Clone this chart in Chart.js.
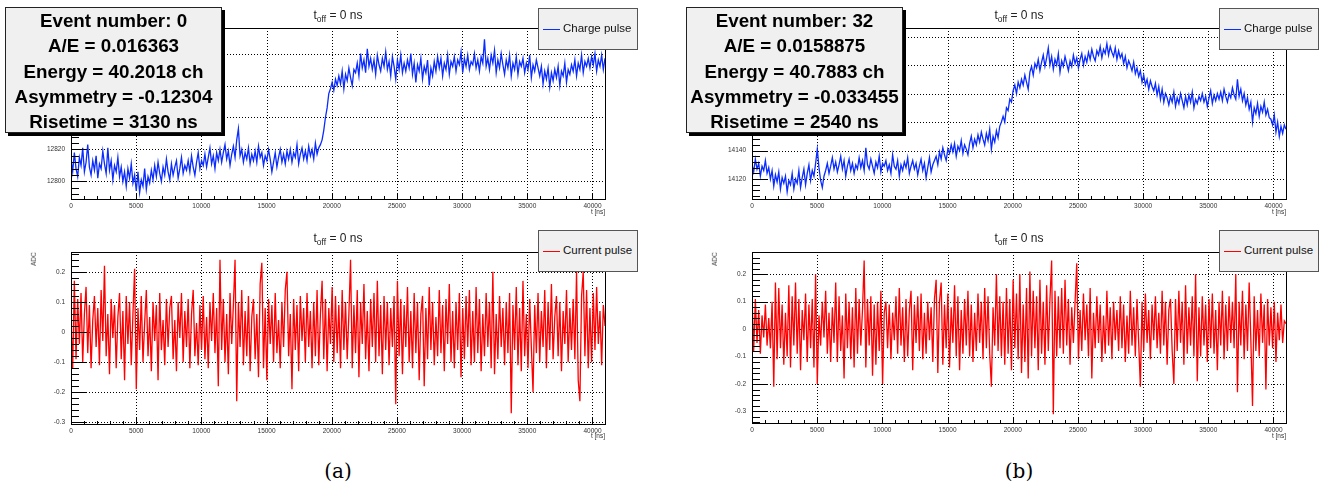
<!DOCTYPE html>
<html>
<head>
<meta charset="utf-8">
<script src="https://cdn.jsdelivr.net/npm/chart.js@4.4.1/dist/chart.umd.min.js"></script>
<style>
  html, body { margin: 0; padding: 0; background: #fff; }
  body { width: 1320px; height: 488px; position: relative; overflow: hidden;
         font-family: "Liberation Sans", Arial, Helvetica, sans-serif; }
  canvas { position: absolute; }
  .stats { position: absolute; width: 217px; height: 126px; box-sizing: border-box;
           background: #f0f0f0; border: 1px solid #222; box-shadow: 3px 3px 0 #000;
           font-weight: bold; font-size: 18.8px; line-height: 25.3px; text-align: center; color: #000; }
  .legend { position: absolute; width: 100px; height: 42px; box-sizing: border-box;
            background: #f0f0f0; border: 1px solid #555; }
  .legend .sw { position: absolute; left: 4px; top: 20px; width: 17px; height: 1px; }
  .legend .lb { position: absolute; left: 24px; top: 13px; font-size: 11.5px; line-height: 13px; color: #111; white-space: nowrap; }
  .ttl { position: absolute; font-size: 12px; line-height: 14px; color: #222; white-space: nowrap; transform: translateX(-50%); }
  .ttl sub { font-size: 8.5px; line-height: 0; vertical-align: -3px; }
  .axt { position: absolute; font-size: 6.5px; line-height: 8px; color: #333; white-space: nowrap; }
  .cap { position: absolute; font-family: "DejaVu Serif", serif; font-size: 20px; line-height: 22px; color: #000; transform: translateX(-50%); }
</style>
</head>
<body>
<script>
// waveforms thinned from 4096 samples x 10 ns
const X_MAX = 40960;

const xTicks = [0, 5000, 10000, 15000, 20000, 25000, 30000, 35000, 40000];
const yTicksChargeA = [12800, 12820, 12840, 12860, 12880];
const yTicksChargeB = [14120, 14140, 14160, 14180, 14200, 14220];
const yTicksCurrent = [-0.3, -0.2, -0.1, 0, 0.1, 0.2];

// (a) event 0 - charge pulse [ADC]
const chargeA = [
  12814, 12806, 12818, 12808, 12803, 12815, 12810, 12821, 12806, 12812,
  12823, 12809, 12804, 12813, 12807, 12816, 12802, 12811, 12808, 12819,
  12811, 12805, 12821, 12807, 12813, 12801, 12810, 12806, 12815, 12803,
  12809, 12800, 12806, 12797, 12808, 12802, 12811, 12799, 12804, 12794,
  12806, 12793, 12801, 12797, 12808, 12795, 12803, 12799, 12807, 12801,
  12810, 12803, 12812, 12805, 12800, 12809, 12804, 12814, 12806, 12801,
  12811, 12804, 12809, 12813, 12802, 12808, 12815, 12805, 12810, 12807,
  12813, 12806, 12816, 12809, 12804, 12812, 12818, 12808, 12813, 12810,
  12817, 12809, 12815, 12821, 12811, 12816, 12808, 12818, 12813, 12820,
  12812, 12818, 12823, 12814, 12819, 12810, 12817, 12822, 12815, 12826,
  12833, 12816, 12820, 12812, 12818, 12814, 12821, 12811, 12817, 12813,
  12819, 12812, 12822, 12815, 12818, 12810, 12816, 12813, 12820, 12814,
  12806, 12812, 12818, 12809, 12815, 12820, 12812, 12817, 12811, 12819,
  12814, 12820, 12812, 12818, 12815, 12823, 12811, 12817, 12821, 12814,
  12819, 12813, 12822, 12816, 12820, 12814, 12824, 12817, 12821, 12823,
  12826, 12832, 12840, 12846, 12855, 12858, 12862, 12857, 12864, 12860,
  12866, 12861, 12869, 12858, 12867, 12863, 12871, 12865, 12860, 12870,
  12868, 12874, 12866, 12880, 12871, 12876, 12868, 12883, 12872, 12877,
  12870, 12876, 12867, 12879, 12873, 12869, 12877, 12872, 12881, 12870,
  12875, 12866, 12878, 12872, 12864, 12876, 12870, 12879, 12868, 12874,
  12869, 12876, 12871, 12880, 12867, 12874, 12862, 12873, 12869, 12877,
  12864, 12872, 12868, 12876, 12860, 12871, 12866, 12875, 12869, 12878,
  12871, 12877, 12866, 12874, 12870, 12879, 12867, 12875, 12872, 12878,
  12869, 12876, 12873, 12881, 12868, 12877, 12872, 12879, 12870, 12875,
  12873, 12880, 12871, 12876, 12869, 12878, 12874, 12889, 12872, 12877,
  12870, 12879, 12874, 12882, 12868, 12876, 12871, 12880, 12873, 12867,
  12876, 12871, 12879, 12866, 12874, 12870, 12878, 12867, 12875, 12872,
  12877, 12868, 12874, 12870, 12879, 12865, 12873, 12869, 12876, 12871,
  12866, 12872, 12861, 12869, 12864, 12871, 12859, 12868, 12863, 12870,
  12865, 12872, 12860, 12869, 12866, 12874, 12862, 12870, 12867, 12873,
  12869, 12876, 12866, 12874, 12870, 12879, 12868, 12875, 12872, 12877,
  12871, 12878, 12873, 12880, 12869, 12876, 12872, 12879, 12870, 12877
];

// (a) event 0 - current pulse [ADC]
const currentA = [
  0.04, -0.12, 0.17, -0.09, 0.11, -0.04, 0.13, -0.10, 0.06, 0.15,
  -0.07, 0.09, -0.12, 0.04, 0.12, -0.05, 0.08, -0.11, 0.14, -0.03,
  0.22, -0.08, 0.06, -0.14, 0.11, -0.02, 0.09, -0.12, 0.05, 0.13,
  -0.09, 0.07, -0.16, 0.12, -0.04, 0.10, -0.11, 0.06, 0.21, -0.19,
  0.08, -0.06, 0.12, -0.10, 0.03, 0.14, -0.08, 0.05, -0.13, 0.10,
  -0.03, 0.09, -0.16, 0.13, -0.06, 0.04, -0.11, 0.11, -0.05, 0.08,
  0.12, -0.09, 0.04, -0.13, 0.10, -0.02, 0.13, -0.10, 0.07, -0.05,
  0.11, -0.12, 0.06, 0.14, -0.08, 0.03, -0.11, 0.09, -0.06, 0.12,
  -0.09, 0.05, -0.12, 0.10, -0.03, 0.13, -0.07, 0.08, -0.18, 0.24,
  -0.06, 0.11, -0.10, 0.06, -0.14, 0.13, -0.04, 0.09, 0.24, -0.23,
  0.10, -0.05, 0.14, -0.11, 0.07, -0.08, 0.12, -0.13, 0.05, 0.11,
  -0.09, 0.06, -0.15, 0.16, 0.23, -0.12, 0.08, -0.16, 0.11, -0.04,
  0.09, -0.10, 0.13, -0.07, 0.04, -0.12, 0.10, -0.05, 0.14, 0.20,
  -0.08, 0.06, -0.19, 0.11, -0.06, 0.09, -0.13, 0.12, -0.03, 0.08,
  -0.10, 0.13, -0.05, 0.07, -0.12, 0.10, -0.08, 0.14, -0.11, 0.06,
  0.17, -0.09, 0.11, -0.13, 0.08, -0.04, 0.15, -0.10, 0.12, -0.07,
  0.09, -0.12, 0.14, -0.06, 0.10, -0.09, 0.06, 0.24, -0.12, 0.09,
  -0.07, 0.14, -0.15, 0.10, -0.04, 0.16, -0.09, 0.07, -0.13, 0.11,
  -0.05, 0.13, -0.10, 0.17, -0.08, 0.09, -0.14, 0.12, -0.06, 0.10,
  -0.11, 0.08, -0.05, 0.12, -0.24, 0.17, -0.08, 0.11, -0.14, 0.09,
  -0.05, 0.15, -0.10, 0.07, -0.12, 0.13, -0.07, 0.10, -0.16, 0.06,
  0.12, -0.18, 0.08, -0.09, 0.15, -0.06, 0.10, -0.11, 0.05, -0.08,
  0.14, -0.07, 0.09, -0.13, 0.11, -0.04, 0.16, -0.10, 0.07, -0.12,
  0.10, -0.06, 0.13, -0.15, 0.08, -0.09, 0.12, -0.05, 0.14, -0.11,
  0.07, -0.10, 0.15, -0.07, 0.11, -0.13, 0.06, -0.08, 0.13, -0.05,
  0.10, -0.12, 0.20, -0.14, 0.06, -0.09, 0.12, -0.05, 0.08, -0.11,
  0.10, -0.07, 0.13, -0.27, 0.09, -0.06, 0.15, -0.11, 0.08, -0.13,
  0.17, -0.08, 0.06, -0.12, 0.11, -0.05, -0.20, 0.09, -0.07, 0.13,
  -0.10, 0.07, -0.05, 0.14, -0.12, 0.10, -0.06, 0.16, -0.09, 0.05,
  0.12, -0.08, 0.10, -0.13, 0.07, -0.04, 0.14, -0.10, 0.08, -0.06,
  0.11, -0.09, 0.20, -0.16, -0.23, 0.12, 0.20, -0.08, 0.14, -0.12,
  0.08, -0.10, 0.13, -0.06, 0.15, -0.04, 0.07, -0.11, 0.09, 0.02
];

// (b) event 32 - charge pulse [ADC]
const chargeB = [
  14130, 14125, 14134, 14127, 14131, 14122, 14129, 14126, 14133, 14124,
  14128, 14120, 14126, 14115, 14123, 14118, 14125, 14113, 14121, 14117,
  14122, 14111, 14119, 14116, 14124, 14113, 14120, 14117, 14126, 14114,
  14121, 14127, 14116, 14124, 14130, 14119, 14126, 14122, 14131, 14141,
  14128, 14119, 14114, 14122, 14126, 14131, 14124, 14129, 14135, 14127,
  14132, 14125, 14130, 14136, 14127, 14133, 14122, 14129, 14134, 14126,
  14131, 14124, 14130, 14127, 14135, 14128, 14133, 14126, 14142, 14130,
  14127, 14134, 14129, 14124, 14132, 14128, 14136, 14125, 14131, 14129,
  14133, 14126, 14130, 14124, 14137, 14129, 14127, 14133, 14122, 14130,
  14126, 14132, 14128, 14135, 14124, 14129, 14133, 14127, 14131, 14123,
  14129, 14134, 14126, 14131, 14121, 14128, 14135, 14125, 14130, 14133,
  14136, 14130, 14139, 14134, 14142, 14137, 14133, 14141, 14138, 14144,
  14139, 14145, 14136, 14143, 14140, 14147, 14138, 14144, 14141, 14137,
  14145, 14150, 14142, 14148, 14144, 14151, 14146, 14153, 14148, 14144,
  14152, 14147, 14155, 14141, 14150, 14146, 14154, 14149, 14157, 14160,
  14164, 14160, 14170, 14168, 14176, 14174, 14182, 14186, 14180, 14188,
  14184, 14190, 14186, 14193, 14188, 14183, 14195, 14199, 14193, 14201,
  14198, 14204, 14196, 14202, 14207, 14199, 14205, 14212, 14200, 14206,
  14197, 14204, 14200, 14208, 14195, 14203, 14199, 14206, 14201, 14196,
  14203, 14199, 14207, 14201, 14205, 14198, 14204, 14208, 14200, 14206,
  14202, 14209, 14204, 14211, 14206, 14203, 14210, 14207, 14213, 14205,
  14211, 14208, 14215, 14207, 14213, 14209, 14206, 14212, 14204, 14210,
  14205, 14208, 14201, 14206, 14198, 14203, 14200, 14196, 14202, 14194,
  14198, 14192, 14196, 14188, 14193, 14186, 14190, 14183, 14189, 14185,
  14182, 14187, 14179, 14185, 14176, 14183, 14174, 14180, 14177, 14172,
  14178, 14174, 14181, 14171, 14177, 14173, 14180, 14175, 14170, 14178,
  14172, 14179, 14174, 14181, 14170, 14176, 14173, 14178, 14175, 14180,
  14174, 14178, 14171, 14177, 14182, 14173, 14179, 14175, 14180, 14176,
  14181, 14175, 14183, 14178, 14174, 14180, 14177, 14184, 14179, 14176,
  14190, 14178, 14183, 14175, 14180, 14172, 14177, 14169, 14174, 14160,
  14170, 14166, 14173, 14164, 14171, 14167, 14174, 14165, 14169, 14163,
  14162, 14158, 14165, 14153, 14160, 14150, 14157, 14152, 14158, 14155
];

// (b) event 32 - current pulse [ADC]
const currentB = [
  0.12, -0.08, 0.11, -0.05, 0.07, -0.09, 0.05, -0.03, 0.09, -0.06,
  0.04, -0.07, 0.10, -0.21, 0.17, -0.11, 0.15, -0.07, 0.09, -0.13,
  0.06, -0.10, 0.16, -0.14, 0.12, -0.06, 0.17, -0.09, 0.11, -0.15,
  0.07, -0.04, 0.13, -0.12, 0.09, -0.07, 0.11, -0.14, 0.20, -0.20,
  0.05, -0.06, 0.10, -0.03, 0.14, -0.09, 0.06, -0.12, 0.08, -0.05,
  0.17, -0.12, 0.12, -0.08, 0.05, -0.18, 0.13, -0.07, 0.10, -0.11,
  0.08, -0.14, 0.15, -0.09, 0.11, -0.06, 0.07, 0.25, -0.14, 0.11,
  -0.06, 0.12, -0.17, 0.09, -0.13, 0.10, -0.08, 0.14, -0.20, 0.06,
  0.10, -0.07, 0.09, -0.11, 0.06, -0.04, 0.12, -0.09, 0.15, -0.06,
  0.08, -0.12, 0.11, -0.10, 0.07, 0.14, -0.15, 0.09, -0.05, 0.12,
  -0.08, 0.13, -0.11, 0.06, -0.09, 0.10, -0.04, 0.08, -0.12, 0.11,
  0.18, -0.16, 0.10, 0.17, -0.13, 0.09, -0.07, 0.13, -0.14, 0.08,
  -0.05, 0.16, -0.10, 0.12, -0.15, 0.07, -0.09, 0.11, -0.06, 0.14,
  -0.10, 0.09, -0.12, 0.06, -0.08, 0.13, -0.05, 0.10, -0.11, 0.15,
  -0.07, 0.12, -0.09, -0.21, 0.08, -0.06, 0.20, -0.08, 0.12, -0.10,
  0.10, -0.13, 0.15, -0.09, 0.11, -0.15, 0.18, -0.07, 0.13, -0.11,
  0.20, -0.16, 0.09, -0.12, 0.15, -0.18, 0.21, -0.10, 0.14, -0.07,
  0.12, -0.15, 0.18, -0.09, 0.10, -0.13, 0.16, -0.08, 0.11, 0.25,
  -0.31, 0.14, -0.10, 0.12, -0.07, 0.15, -0.09, 0.18, -0.06, 0.11,
  -0.13, 0.08, -0.05, 0.10, 0.24, -0.11, 0.07, -0.08, 0.13, -0.04,
  0.09, -0.10, 0.15, -0.18, 0.06, -0.07, 0.12, -0.05, 0.09, -0.12,
  0.05, -0.09, 0.14, -0.06, 0.08, -0.11, 0.10, -0.04, 0.07, -0.08,
  0.12, -0.07, 0.09, -0.12, 0.05, -0.09, 0.14, -0.06, 0.08, -0.10,
  0.11, -0.05, -0.21, 0.10, -0.08, 0.13, -0.05, 0.07, -0.11, 0.09,
  -0.04, 0.12, -0.07, 0.06, -0.09, 0.14, -0.06, 0.10, -0.13, 0.07,
  0.11, -0.08, -0.20, 0.11, -0.08, 0.14, -0.05, 0.10, -0.13, 0.16,
  -0.09, 0.08, -0.06, 0.12, -0.10, 0.20, -0.19, 0.08, -0.10, 0.12,
  -0.06, 0.09, -0.12, 0.11, -0.07, 0.13, -0.09, 0.07, -0.15, 0.10,
  -0.06, 0.14, -0.11, 0.09, -0.08, 0.12, -0.05, 0.10, -0.07, 0.20,
  -0.23, 0.10, -0.06, 0.14, -0.11, 0.09, -0.08, 0.17, -0.04, -0.28,
  0.12, -0.08, 0.07, -0.10, 0.13, -0.05, 0.09, -0.22, 0.11, -0.06,
  0.08, -0.07, 0.10, -0.12, 0.06, -0.04, 0.09, -0.05, 0.03, 0.02
];

const statsA = ['Event number: 0', 'A/E = 0.016363', 'Energy = 40.2018 ch', 'Asymmetry = -0.12304', 'Risetime = 3130 ns'];
const statsB = ['Event number: 32', 'A/E = 0.0158875', 'Energy = 40.7883 ch', 'Asymmetry = -0.033455', 'Risetime = 2540 ns'];
const captions = ['(a)', '(b)'];

const BLUE = '#0a2cff';
const RED = '#ff0000';

Chart.defaults.font.family = '"Liberation Sans", Arial, sans-serif';

// ROOT look: dotted grid at major ticks, inward ticks, closed frame
const rootFrame = {
  id: 'rootFrame',
  beforeDatasetsDraw(chart) {
    const { ctx, chartArea: a, scales: { x, y } } = chart;
    ctx.save();
    ctx.strokeStyle = '#000';
    ctx.lineWidth = 1;
    ctx.setLineDash([1, 2]);
    ctx.beginPath();
    for (const t of x.ticks) {
      const px = Math.round(x.getPixelForValue(t.value)) + 0.5;
      ctx.moveTo(px, a.top); ctx.lineTo(px, a.bottom);
    }
    for (const t of y.ticks) {
      const py = Math.round(y.getPixelForValue(t.value)) + 0.5;
      ctx.moveTo(a.left, py); ctx.lineTo(a.right, py);
    }
    ctx.stroke();
    ctx.restore();
  },
  afterDatasetsDraw(chart, args, opts) {
    const { ctx, chartArea: a, scales: { x, y } } = chart;
    ctx.save();
    ctx.strokeStyle = '#000';
    ctx.lineWidth = 1;
    ctx.beginPath();
    for (let k = 0; k * 1000 <= x.max; k++) {
      const px = Math.round(x.getPixelForValue(k * 1000)) + 0.5;
      const len = k % 5 === 0 ? 6 : 3;
      ctx.moveTo(px, a.bottom); ctx.lineTo(px, a.bottom - len);
    }
    for (let k = Math.ceil(y.min / opts.minor - 1e-6); k * opts.minor <= y.max + 1e-9; k++) {
      const py = Math.round(y.getPixelForValue(k * opts.minor)) + 0.5;
      const len = k % 5 === 0 ? 16 : 8;
      ctx.moveTo(a.left, py); ctx.lineTo(a.left + len, py);
    }
    ctx.stroke();
    ctx.strokeRect(Math.round(a.left) + 0.5, Math.round(a.top) + 0.5,
                   Math.round(a.right - a.left), Math.round(a.bottom - a.top));
    ctx.restore();
  }
};

const fmtTick = v => {
  const r = Math.round(v * 1000) / 1000;
  return Math.abs(r) < 1e-9 ? '0' : String(r);
};

function addDiv(cls, css, html) {
  const d = document.createElement('div');
  d.className = cls;
  Object.assign(d.style, css);
  d.innerHTML = html;
  document.body.appendChild(d);
  return d;
}

const CW = 640, CH = 222;

function makePanel(p) {
  const cv = document.createElement('canvas');
  cv.width = CW; cv.height = CH;
  cv.style.left = p.left + 'px'; cv.style.top = p.top + 'px';
  document.body.appendChild(cv);

  const step = X_MAX / (p.data.length - 1);
  const pts = p.data.map((v, i) => ({ x: i * step, y: v }));
  const tickFont = { size: 6.5 };

  new Chart(cv, {
    type: 'line',
    data: { datasets: [{ data: pts, borderColor: p.color, borderWidth: 1.3, pointRadius: 0, tension: 0, fill: false }] },
    options: {
      responsive: false,
      animation: false,
      events: [],
      layout: { padding: { left: 0, top: p.area.t, right: CW - p.area.r, bottom: 0 } },
      plugins: { legend: { display: false }, tooltip: { enabled: false }, rootFrame: { minor: p.yStep / 5 } },
      scales: {
        x: {
          type: 'linear', min: 0, max: X_MAX,
          grid: { display: false, drawTicks: false }, border: { display: false },
          ticks: { autoSkip: false, maxRotation: 0, padding: 3, color: '#333', font: tickFont, callback: fmtTick },
          afterBuildTicks: s => { s.ticks = xTicks.map(v => ({ value: v })); },
          afterFit: s => { s.height = CH - p.area.b; }
        },
        y: {
          type: 'linear', min: p.yMin, max: p.yMax,
          grid: { display: false, drawTicks: false }, border: { display: false },
          ticks: { autoSkip: false, padding: 6, color: '#333', font: tickFont, callback: fmtTick },
          afterBuildTicks: s => { s.ticks = p.yTicks.map(v => ({ value: v })); },
          afterFit: s => { s.width = p.area.l; }
        }
      }
    },
    plugins: [rootFrame]
  });
}

const panels = [
  { left: 0,   top: 0,   data: chargeA,  color: BLUE, yMin: 12789, yMax: 12896, yStep: 20,  yTicks: yTicksChargeA, area: { l: 71, r: 605, t: 28, b: 199 } },
  { left: 0,   top: 222, data: currentA, color: RED,  yMin: -0.3056, yMax: 0.266, yStep: 0.1, yTicks: yTicksCurrent, area: { l: 71, r: 605, t: 30, b: 202 } },
  { left: 680, top: 0,   data: chargeB,  color: BLUE, yMin: 14106, yMax: 14226, yStep: 20,  yTicks: yTicksChargeB, area: { l: 72, r: 606, t: 28, b: 199 } },
  { left: 680, top: 222, data: currentB, color: RED,  yMin: -0.342, yMax: 0.281, yStep: 0.1, yTicks: yTicksCurrent, area: { l: 72, r: 606, t: 30, b: 201 } }
];
panels.forEach(makePanel);

// overlays: titles, axis titles, legends, stat boxes, captions
[[0, statsA, 338], [681, statsB, 1019]].forEach(([dx, lines, cx], n) => {
  addDiv('ttl', { left: cx + 'px', top: '8px' }, 't<sub>off</sub> = 0 ns');
  addDiv('ttl', { left: cx + 'px', top: '231px' }, 't<sub>off</sub> = 0 ns');

  addDiv('axt', { left: (dx + 575) + 'px', width: '30px', textAlign: 'right', top: '208px' }, 't [ns]');
  addDiv('axt', { left: (dx + 575) + 'px', width: '30px', textAlign: 'right', top: '432px' }, 't [ns]');
  addDiv('axt', { left: (dx + 27) + 'px', top: '255px', transform: 'rotate(-90deg)' }, 'ADC');

  addDiv('legend', { left: (dx + 538) + 'px', top: '8px' },
    '<div class="sw" style="background:' + BLUE + '"></div><div class="lb">Charge pulse</div>');
  addDiv('legend', { left: (dx + 538) + 'px', top: '230px' },
    '<div class="sw" style="background:' + RED + '"></div><div class="lb">Current pulse</div>');

  addDiv('stats', { left: (dx + 5) + 'px', top: '7px' }, lines.map(s => '<div>' + s + '</div>').join(''));

  addDiv('cap', { left: cx + 'px', top: '460px' }, captions[n]);
});
</script>
</body>
</html>
